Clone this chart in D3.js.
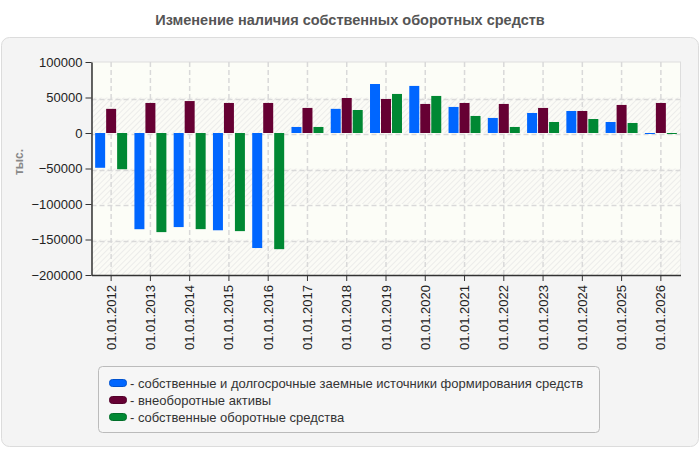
<!DOCTYPE html>
<html><head><meta charset="utf-8">
<script src="https://cdn.jsdelivr.net/npm/d3@7"></script>
<style>body{margin:0;background:#fff;font-family:"Liberation Sans",Arial,sans-serif;}</style>
</head><body><svg id="c" width="700" height="450"></svg>
<script>
const categories = ["01.01.2012","01.01.2013","01.01.2014","01.01.2015","01.01.2016","01.01.2017","01.01.2018","01.01.2019","01.01.2020","01.01.2021","01.01.2022","01.01.2023","01.01.2024","01.01.2025","01.01.2026"];
const seriesNames = ["- собственные и долгосрочные заемные источники формирования средств","- внеоборотные активы","- собственные оборотные средства"];
const sourcesValues = [-49000,-135500,-132500,-137000,-162000,8500,34000,69000,66300,36700,21200,28200,31000,15500,-1000];
const fixedAssetsValues = [34000,42300,45000,42300,42300,35300,49300,47900,40900,42300,40900,35300,31000,39500,42300];
const workingCapitalValues = [-51000,-139600,-135400,-138200,-163600,8500,32400,55000,52200,24000,8500,15500,19700,14100,-1000];
const yTicks = [-200000,-150000,-100000,-50000,0,50000,100000];
const colors = ["#0066ff","#660033","#008833"];
const title = "Изменение наличия собственных оборотных средств";
const yLabel = "тыс.";

const svg = d3.select("#c");
const L = 91.5, R = 680.5, T = 62, B = 275;

// panel
svg.append("rect").attr("x",1.5).attr("y",37.5).attr("width",697).attr("height",409).attr("rx",8)
  .attr("fill","#f4f4f4").attr("stroke","#dcdcdc");
svg.append("text").attr("x",350).attr("y",25).attr("text-anchor","middle")
  .attr("font-size",14.5).attr("font-weight","bold").attr("fill","#555").text(title);

const y = d3.scaleLinear().domain([d3.min(yTicks), d3.max(yTicks)]).range([B, T]);
const x0 = d3.scaleBand().domain(categories).range([L, R]).padding(0);
const bw = x0.bandwidth();
const x1 = d3.scaleBand().domain([0,1,2]).range([3.65, bw - 3.65 + 1]).padding(0);

// hatch pattern
const defs = svg.append("defs");
const pat = defs.append("pattern").attr("id","hatch").attr("patternUnits","userSpaceOnUse")
  .attr("width",4).attr("height",4).attr("patternTransform","rotate(45)");
pat.append("rect").attr("width",4).attr("height",4).attr("fill","#fbfbf6");
pat.append("line").attr("x1",0).attr("y1",0).attr("x2",0).attr("y2",4).attr("stroke","#e6e6e6").attr("stroke-width",1.4);

const g = svg.append("g");
g.append("rect").attr("x",L).attr("y",T).attr("width",R-L).attr("height",B-T).attr("fill","#fcfdf7")
  .attr("stroke","#dddddd");
// alternating bands
for (let i = 0; i < yTicks.length - 1; i++) {
  if (i % 2 === 0) {
    g.append("rect").attr("x",L).attr("width",R-L)
      .attr("y", y(yTicks[i+1])).attr("height", y(yTicks[i]) - y(yTicks[i+1]))
      .attr("fill","url(#hatch)");
  }
}
// grid
g.selectAll(".hg").data(yTicks.slice(1,-1)).join("line")
  .attr("x1",L).attr("x2",R).attr("y1",d=>Math.round(y(d))+1.5).attr("y2",d=>Math.round(y(d))+1.5)
  .attr("stroke","#d9d9d9").attr("stroke-width",1.5).attr("stroke-dasharray","5,3");
g.selectAll(".vg").data(categories).join("line")
  .attr("x1",d=>x0(d)+bw/2).attr("x2",d=>x0(d)+bw/2).attr("y1",T).attr("y2",B)
  .attr("stroke","#d9d9d9").attr("stroke-width",1.5).attr("stroke-dasharray","5,3");

// bars
const series = [sourcesValues, fixedAssetsValues, workingCapitalValues];
series.forEach((vals, si) => {
  g.selectAll(".b"+si).data(vals).join("rect")
    .attr("x",(d,i)=>x0(categories[i]) + x1(si))
    .attr("width", x1.bandwidth() - 1)
    .attr("y", d => d >= 0 ? y(d) : y(0))
    .attr("height", d => Math.max(1, Math.abs(y(d) - y(0))))
    .attr("fill", colors[si]);
});

// axes
const ya = d3.axisLeft(y).tickValues(yTicks).tickSize(6).tickSizeOuter(0).tickFormat(d3.format("d"));
const yg = svg.append("g").attr("transform",`translate(${L},0)`).call(ya);
yg.selectAll("text").attr("font-size",13).attr("fill","#222").attr("font-family","Liberation Sans, Arial, sans-serif").attr("x",-9);
yg.selectAll("line,path").attr("stroke","#333");
yg.select(".domain").attr("stroke-width",1.5);

const xa = d3.axisBottom(x0).tickSize(6).tickSizeOuter(0);
const xg = svg.append("g").attr("transform",`translate(0,${B})`).call(xa);
xg.selectAll("line,path").attr("stroke","#333");
xg.select(".domain").attr("stroke-width",1.5);
xg.selectAll("text").attr("font-size",13).attr("fill","#222").attr("font-family","Liberation Sans, Arial, sans-serif")
  .attr("transform","rotate(-90)").attr("text-anchor","end").attr("x",-10).attr("y",0).attr("dy","0.35em");

svg.append("text").attr("transform","translate(23,162) rotate(-90)").attr("text-anchor","middle")
  .attr("font-size",12).attr("font-weight","bold").attr("fill","#888").text(yLabel);

// legend
const lg = svg.append("g");
lg.append("rect").attr("x",98.5).attr("y",366.5).attr("width",501).attr("height",66).attr("rx",4)
  .attr("fill","#f6f6f6").attr("stroke","#bbbbbb");
seriesNames.forEach((n, i) => {
  const cy = 383 + i*17;
  lg.append("rect").attr("x",109.5).attr("y",cy-3.5).attr("width",17).attr("height",7).attr("rx",3)
    .attr("fill",colors[i]).attr("stroke",d3.color(colors[i]).darker(0.6));
  lg.append("text").attr("x",130).attr("y",cy+4.5).attr("font-size",13).attr("fill","#333").text(n);
});
</script></body></html>
